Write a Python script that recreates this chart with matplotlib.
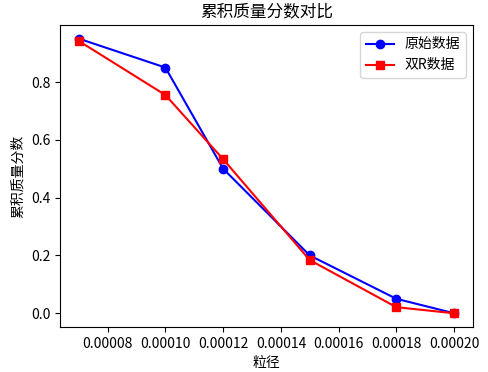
import matplotlib
matplotlib.use("Agg")
import matplotlib.pyplot as plt

plt.rcParams['font.family'] = ['Noto Sans CJK SC', 'DejaVu Sans']
plt.rcParams['axes.unicode_minus'] = False

# particle size and cumulative mass fraction
size = [0.00007, 0.00010, 0.00012, 0.00015, 0.00018, 0.00020]
orig = [0.95, 0.85, 0.50, 0.20, 0.05, 0.0]
rr2 = [0.942, 0.755, 0.533, 0.184, 0.021, 0.0]

fig, ax = plt.subplots(figsize=(4.88, 3.72), dpi=100)
ax.plot(size, orig, 'b-o', label='原始数据')
ax.plot(size, rr2, 'r-s', label='双R数据')
ax.set_title('累积质量分数对比')
ax.set_xlabel('粒径')
ax.set_ylabel('累积质量分数')
ax.set_xticks([0.00008, 0.00010, 0.00012, 0.00014, 0.00016, 0.00018, 0.00020])
ax.set_xticklabels(['0.00008', '0.00010', '0.00012', '0.00014', '0.00016', '0.00018', '0.00020'])
ax.legend(loc='upper right')
fig.subplots_adjust(left=0.123, right=0.969, top=0.933, bottom=0.121)
fig.savefig('out.png', dpi=100)
